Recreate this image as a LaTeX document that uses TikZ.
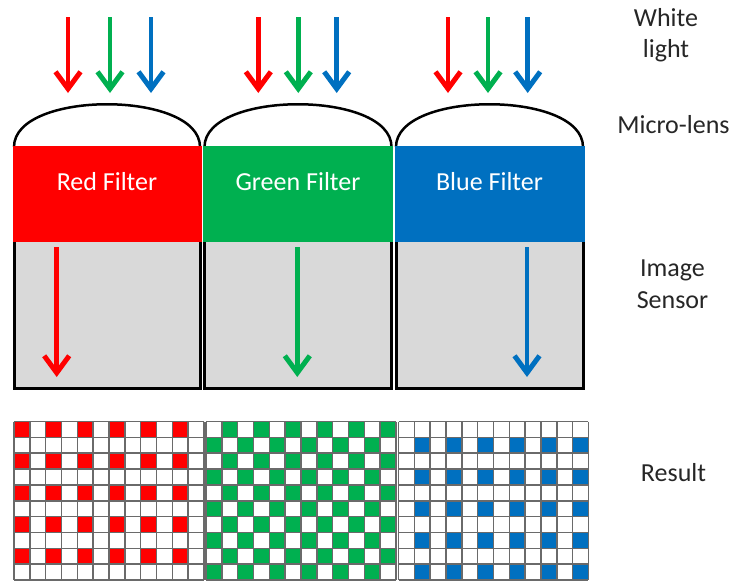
\documentclass[tikz,border=0pt]{standalone}
\usepackage{fontspec}
\setmainfont{Carlito}
\usetikzlibrary{arrows.meta}
\definecolor{cRed}{HTML}{FF0000}
\definecolor{cGreen}{HTML}{00B050}
\definecolor{cBlue}{HTML}{0070C0}
\definecolor{cGrey}{HTML}{D9D9D9}
\definecolor{cText}{HTML}{262626}
\definecolor{cGrid}{HTML}{6A6A6A}
\begin{document}
\begin{tikzpicture}[x=1pt,y=-1pt,
  ray/.style={line width=4.5pt, -{Straight Barb[length=17pt,width=25pt,line width=5pt]}},
  lensline/.style={line width=2.5pt, draw=black, fill=white},
  sensorbox/.style={fill=cGrey, draw=black, line width=3pt},
  filtertext/.style={text=white, inner sep=0pt, font=\fontsize{26}{31}\selectfont},
  sidetext/.style={text=cText, inner sep=0pt, align=center, font=\fontsize{26}{31.5}\selectfont},
  gridline/.style={draw=cGrid, line width=1.5pt},
]
\useasboundingbox (0,0) rectangle (738,581);

% ---- columns: left x, right x, colour, name, text
\foreach \xl/\xr/\col/\nm/\txt in {14/200/cRed/r/Red Filter, 204.5/391.5/cGreen/g/Green Filter, 396/583/cBlue/b/Blue Filter}{
  % sensor
  \draw[sensorbox] (\xl,242) -- (\xl,388) -- (\xr,388) -- (\xr,242);
  % micro-lens
  \draw[lensline] (\xl,147) .. controls (\xl,90) and (\xr,90) .. (\xr,147);
  % filter
  \fill[\col] (\xl-1.5,146) rectangle (\xr+1.5,242);
  \node[filtertext] (f\nm) at ({(\xl+\xr)/2},182) {\txt};
}

% ---- incoming white light arrows
\foreach \x/\c/\n in {68/cRed/1, 110/cGreen/2, 151/cBlue/3,
                      258.3/cRed/4, 298.3/cGreen/5, 336.7/cBlue/6,
                      448/cRed/7, 488/cGreen/8, 527.7/cBlue/9}{
  \coordinate (s\n) at (\x,17);
  \coordinate (e\n) at (\x,93);
  \draw[ray, draw=\c] (s\n) -- (e\n);
}

% ---- arrows inside the sensor
\foreach \x/\c/\n in {56.7/cRed/1, 297.3/cGreen/2, 527/cBlue/3}{
  \coordinate (ss\n) at (\x,247);
  \coordinate (se\n) at (\x,377);
  \draw[ray, draw=\c] (ss\n) -- (se\n);
}

% ---- result grids (12 x 10)
\def\cw{15.83}
\def\ch{15.85}
\foreach \gx/\col/\mode in {14/cRed/0, 206/cGreen/1, 398.5/cBlue/2}{
  \foreach \i in {0,...,11}{
    \foreach \j in {0,...,9}{
      \pgfmathtruncatemacro{\ci}{mod(\i,2)}
      \pgfmathtruncatemacro{\cj}{mod(\j,2)}
      \pgfmathtruncatemacro{\cs}{mod(\i+\j,2)}
      \ifcase\mode
        \pgfmathtruncatemacro{\on}{(\ci==0)&&(\cj==0)}
      \or
        \pgfmathtruncatemacro{\on}{\cs==1}
      \else
        \pgfmathtruncatemacro{\on}{(\ci==1)&&(\cj==1)}
      \fi
      \ifnum\on=1
        \fill[\col] ({\gx+\i*\cw},{421.5+\j*\ch}) rectangle ++(\cw,\ch);
      \fi
    }
  }
  \foreach \i in {0,...,12}{
    \draw[gridline] ({\gx+\i*\cw},421.5) -- ({\gx+\i*\cw},{421.5+10*\ch});
  }
  \foreach \j in {0,...,10}{
    \draw[gridline] (\gx,{421.5+\j*\ch}) -- ({\gx+12*\cw},{421.5+\j*\ch});
  }
}

% ---- side labels
\node[sidetext] (wl) at (666,35) {White\\light};
\node[sidetext] (ml) at (673.5,124.5) {Micro-lens};
\node[sidetext] (is) at (672.5,284) {Image\\Sensor};
\node[sidetext] (rs) at (673.5,472.5) {Result};
\end{tikzpicture}
\end{document}
